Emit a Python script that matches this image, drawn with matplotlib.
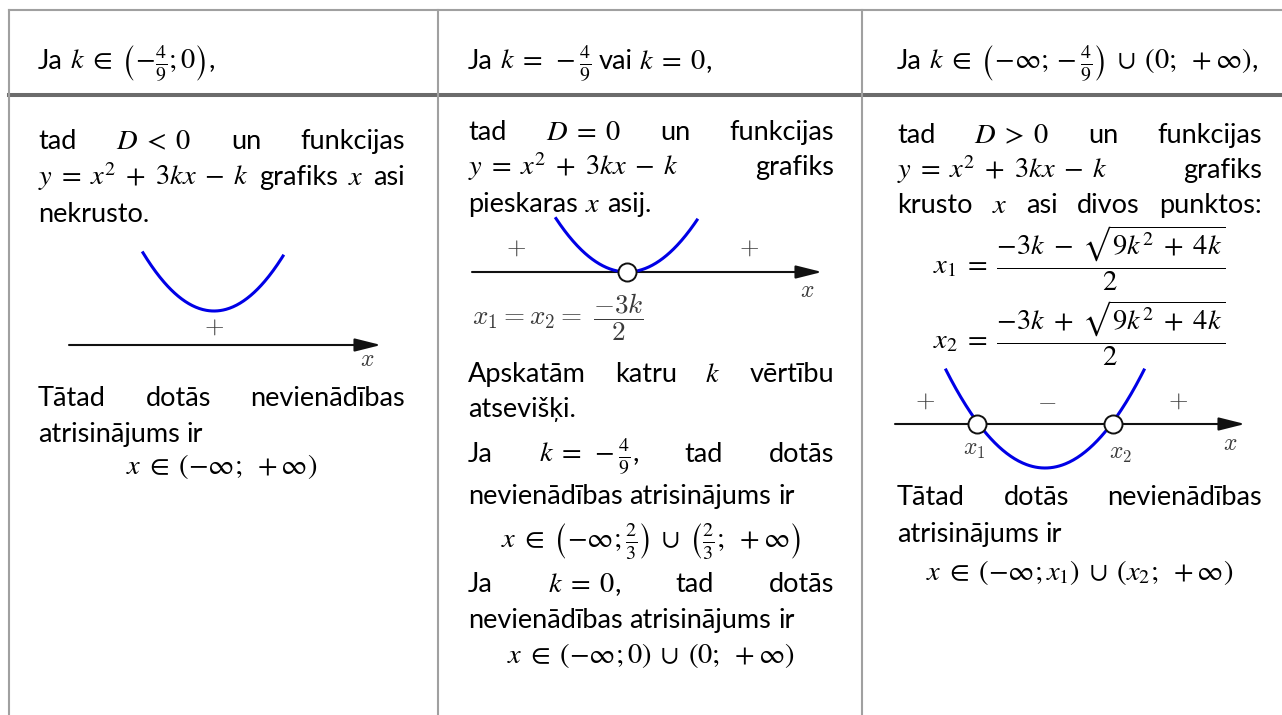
import numpy as np
import matplotlib.pyplot as plt

W, H = 1282, 715
BODY = 'Lato'
FS = 19.5      # body text
FM = 20.5      # math
LBL = '#3a3a3a'
BLUE = '#0000e6'

# table frame (pixel coordinates)
col_x = [9, 438, 862]
top_y, head_y = 10, 95

# text columns: left / right margins
margins = [(38, 405), (468, 834), (897, 1262)]

headers = [
    ['Ja', r'$k \in \left(-\frac{4}{9};0\right)$,'],
    ['Ja', r'$k = -\frac{4}{9}$', 'vai', r'$k = 0$,'],
    ['Ja', r'$k \in \left(-\infty;-\frac{4}{9}\right) \cup (0;\ +\infty)$,'],
]
header_base = 69

# body lines: (column, baseline, tokens, mode)  mode: J=justify, N=natural, C=centered
body = [
    (0, 149, ['tad', '$D < 0$', 'un', 'funkcijas'], 'J'),
    (0, 185, ['$y = x^2 + 3kx - k$', 'grafiks', '$x$', 'asi'], 'J'),
    (0, 222, ['nekrusto.'], 'N'),
    (0, 406, ['Tātad', 'dotās', 'nevienādības'], 'J'),
    (0, 442, ['atrisinājums', 'ir'], 'N'),
    (0, 474, [r'$x \in (-\infty;\ +\infty)$'], 'C'),

    (1, 140, ['tad', '$D = 0$', 'un', 'funkcijas'], 'J'),
    (1, 175, ['$y = x^2 + 3kx - k$', 'grafiks'], 'J'),
    (1, 212, ['pieskaras', '$x$', 'asij.'], 'N'),
    (1, 382, ['Apskatām', 'katru', '$k$', 'vērtību'], 'J'),
    (1, 417, ['atsevišķi.'], 'N'),
    (1, 462, ['Ja', r'$k = -\frac{4}{9}$,', 'tad', 'dotās'], 'J'),
    (1, 504, ['nevienādības', 'atrisinājums', 'ir'], 'N'),
    (1, 547, [r'$x \in \left(-\infty;\frac{2}{3}\right) \cup \left(\frac{2}{3};\ +\infty\right)$'], 'C'),
    (1, 592, ['Ja', '$k = 0$,', 'tad', 'dotās'], 'J'),
    (1, 628, ['nevienādības', 'atrisinājums', 'ir'], 'N'),
    (1, 663, [r'$x \in (-\infty;0) \cup (0;\ +\infty)$'], 'C'),

    (2, 143, ['tad', '$D > 0$', 'un', 'funkcijas'], 'J'),
    (2, 178, ['$y = x^2 + 3kx - k$', 'grafiks'], 'J'),
    (2, 213, ['krusto', '$x$', 'asi', 'divos', 'punktos:'], 'J'),
    (2, 274, [r'$x_1 = \dfrac{-3k - \sqrt{9k^2 + 4k}}{2}$'], 'C'),
    (2, 349, [r'$x_2 = \dfrac{-3k + \sqrt{9k^2 + 4k}}{2}$'], 'C'),
    (2, 505, ['Tātad', 'dotās', 'nevienādības'], 'J'),
    (2, 542, ['atrisinājums', 'ir'], 'N'),
    (2, 580, [r'$x \in (-\infty;x_1) \cup (x_2;\ +\infty)$'], 'C'),
]

# sketches: number line, parabola (vertex + end points), roots, sign labels
axis_y = [345, 272, 424]
axis_x = [(69, 381), (472, 822), (895, 1245)]
vertex = [(214, 311), (627, 272), (1045, 468)]
ends_x = [(143, 283), (556, 697), (946, 1144)]
ends_y = [256, 220, 370]
roots = [[], [627], [977, 1113]]
signs = [
    [('+', 214, 334)],
    [('+', 516, 255), ('+', 749, 255)],
    [('+', 925, 408), ('-', 1047, 408), ('+', 1178, 408)],
]
x_labels = [(367, 366), (807, 297), (1230, 450)]
root_labels = [[], [], [('x_1', 974, 455), ('x_2', 1120, 459)]]

fig = plt.figure(figsize=(W / 100, H / 100), dpi=100)
ax = fig.add_axes([0, 0, 1, 1])
ax.set_xlim(0, W)
ax.set_ylim(H, 0)
ax.axis('off')
rend = fig.canvas.get_renderer()

# grid
ax.plot([col_x[0], W], [top_y, top_y], color='#a0a0a0', lw=1.5)
ax.plot([col_x[0], W], [head_y, head_y], color='#6b6b6b', lw=2.9)
for cx in col_x:
    ax.plot([cx, cx], [top_y, H], color='#a0a0a0', lw=1.5)

OPS = {' = ': r'\;=\;', ' < ': r'\;<\;', ' > ': r'\;>\;', ' + ': r'\;+\;',
       ' - ': r'\;-\;', r' \in ': r'\;\in\;', r' \cup ': r'\;\cup\;'}


def mk(s, x, y):
    if '$' in s:
        for k, v in OPS.items():
            s = s.replace(k, v)
        return ax.text(x, y, s, fontsize=FM, family=BODY, math_fontfamily='stix',
                       va='baseline', ha='left')
    return ax.text(x, y, s, fontsize=FS, family=BODY, va='baseline', ha='left')


sp = mk('a a', 0, 0)
sp2 = mk('aa', 0, 0)
space = sp.get_window_extent(rend).width - sp2.get_window_extent(rend).width
sp.remove()
sp2.remove()


def put_line(col, y, tokens, mode):
    x0, x1 = margins[col]
    objs = [mk(t, 0, y) for t in tokens]
    ws = [o.get_window_extent(rend).width for o in objs]
    if mode == 'J' and len(objs) > 1:
        gap = (x1 - x0 - sum(ws)) / (len(objs) - 1)
    else:
        gap = space
    if mode == 'C':
        x = (x0 + x1) / 2 - (sum(ws) + gap * (len(ws) - 1)) / 2
    else:
        x = x0
    for o, w in zip(objs, ws):
        o.set_x(x)
        x += w + gap


for i, h in enumerate(headers):
    put_line(i, header_base, h, 'N')
for col, y, toks, mode in body:
    put_line(col, y, toks, mode)

# sketches
for i in range(3):
    ay = axis_y[i]
    ax.annotate('', xy=(axis_x[i][1], ay), xytext=(axis_x[i][0], ay),
                arrowprops=dict(arrowstyle='-|>,head_length=0.8,head_width=0.2',
                                mutation_scale=20, lw=1.5, color='#111111',
                                shrinkA=0, shrinkB=0))
    xv, yv = vertex[i]
    a = (ends_y[i] - yv) / (ends_x[i][1] - xv) ** 2
    xs = np.linspace(ends_x[i][0], ends_x[i][1], 200)
    ax.plot(xs, yv + a * (xs - xv) ** 2, color=BLUE, lw=2.2, zorder=3)
    for r in roots[i]:
        ax.plot([r], [ay], 'o', ms=13, mfc='white', mec='#111111', mew=1.4, zorder=5)
    for s, sx, sy in signs[i]:
        ax.text(sx, sy, '$%s$' % s, fontsize=18, math_fontfamily='cm',
                color=LBL, ha='center', va='baseline')
    lx, ly = x_labels[i]
    ax.text(lx, ly, '$x$', fontsize=17, math_fontfamily='cm', color=LBL,
            ha='center', va='baseline')
    for s, sx, sy in root_labels[i]:
        ax.text(sx, sy, '$%s$' % s, fontsize=17, math_fontfamily='cm',
                color=LBL, ha='center', va='baseline')

ax.text(472, 325, r'$x_1=x_2=\;\dfrac{-3k}{2}$', fontsize=19.5, math_fontfamily='cm',
        color=LBL, ha='left', va='baseline')

fig.savefig('out.png', dpi=100)
